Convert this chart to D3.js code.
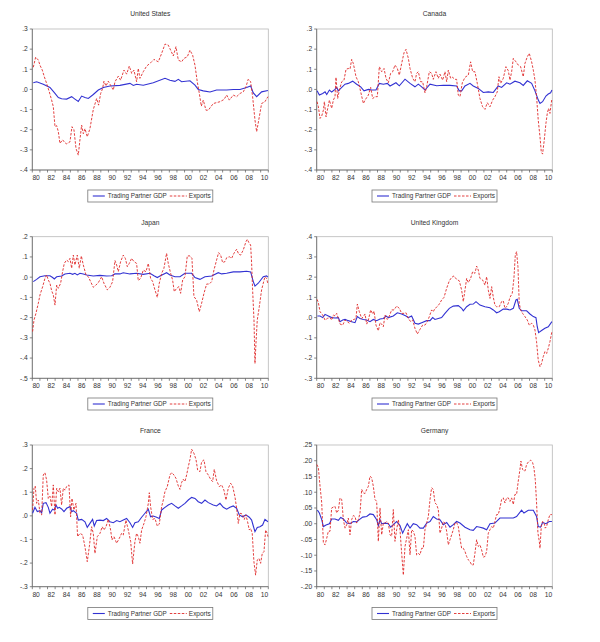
<!DOCTYPE html>
<html>
  <head>
    <meta charset="UTF-8" />
    <style>
      body {
        margin: 0;
        background: #fff;
        font-family: "Liberation Sans", Arial, sans-serif;
      }
    </style>
  </head>
  <body>
    <svg></svg>
    <script src="https://d3js.org/d3.v7.min.js"></script>
    <script>
      // Data: [year, value]
      const countries = ["United States", "Canada", "Japan", "United Kingdom", "France", "Germany"];
      const seriesNames = ["Trading Partner GDP", "Exports"];
      const yearLabels = d3.range(1980, 2011, 2);

      const yDomains = [[-0.4, 0.3], [-0.4, 0.3], [-0.5, 0.2], [-0.3, 0.4], [-0.3, 0.3], [-0.2, 0.25]];
      const yStep = [0.1, 0.1, 0.1, 0.1, 0.1, 0.05];

      const usGdp = [[1980.13,.033],[1980.57,.038],[1981.44,.026],[1982.32,.01],[1982.98,-.02],[1983.42,-.04],[1983.85,-.046],[1984.51,-.048],[1985.17,-.036],[1985.6,-.048],[1986.04,-.06],[1986.48,-.033],[1986.92,-.04],[1987.36,-.045],[1988.01,-.025],[1988.67,-.003],[1989.33,.01],[1990.2,.017],[1991.51,.02],[1992.83,.03],[1993.27,.02],[1993.7,.026],[1994.58,.021],[1995.89,.033],[1997.43,.055],[1998.08,.046],[1998.74,.04],[1999.18,.05],[1999.61,.038],[2000.71,.043],[2001.37,.021],[2001.8,0],[2002.46,-.007],[2003.34,-.013],[2004.21,-.003],[2005.53,-.003],[2006.4,0],[2007.28,0],[2008.15,.01],[2008.68,.017],[2009.03,-.017],[2009.47,-.036],[2010.12,-.012],[2010.95,-.005]];
      const usExports = [[1980.13,.11],[1980.44,.16],[1980.79,.146],[1981.01,.12],[1981.31,.096],[1981.58,.063],[1981.88,.03],[1982.23,-.012],[1982.54,-.053],[1982.76,-.086],[1982.98,-.185],[1983.2,-.18],[1983.42,-.21],[1983.63,-.268],[1983.98,-.25],[1984.29,-.265],[1984.51,-.27],[1984.95,-.26],[1985.21,-.185],[1985.47,-.2],[1985.74,-.293],[1986.04,-.326],[1986.26,-.25],[1986.48,-.177],[1986.7,-.22],[1986.92,-.195],[1987.22,-.235],[1987.57,-.195],[1988.01,-.1],[1988.45,-.045],[1988.71,-.078],[1988.98,-.02],[1989.24,.005],[1989.41,.041],[1989.68,.017],[1989.98,.041],[1990.29,.02],[1990.64,-.003],[1990.86,.038],[1991.3,.066],[1991.6,.046],[1992.04,.096],[1992.39,.076],[1992.74,.116],[1993.05,.08],[1993.35,.096],[1993.7,.038],[1993.92,.104],[1994.14,.055],[1994.58,.088],[1995.02,.116],[1995.54,.132],[1995.98,.149],[1996.55,.137],[1996.99,.179],[1997.43,.225],[1997.86,.22],[1998.17,.195],[1998.52,.166],[1998.87,.212],[1999.18,.146],[1999.61,.137],[1999.92,.154],[2000.36,.162],[2000.71,.195],[2001.06,.17],[2001.37,.12],[2001.67,.038],[2001.94,-.02],[2002.2,-.083],[2002.46,-.053],[2002.81,-.103],[2003.12,-.103],[2003.77,-.07],[2004.65,-.061],[2005.18,-.05],[2005.53,-.028],[2005.88,-.053],[2006.4,-.028],[2006.84,-.036],[2007.28,-.02],[2007.71,-.012],[2008.06,.013],[2008.37,.051],[2008.68,.038],[2008.94,-.036],[2009.25,-.152],[2009.47,-.21],[2009.82,-.136],[2010.12,-.07],[2010.56,-.061],[2010.95,-.036]];

      const canadaGdp = [[1980.05,-.007],[1980.35,-.028],[1980.79,-.02],[1981.1,-.012],[1981.32,-.025],[1981.67,-.003],[1981.97,-.013],[1982.41,0],[1982.63,.01],[1982.85,-.007],[1983.16,.005],[1983.73,.026],[1984.16,.03],[1984.73,.041],[1985.26,.026],[1985.79,.013],[1986.23,-.007],[1986.8,0],[1987.23,-.003],[1987.8,-.003],[1988.24,.03],[1988.77,.026],[1989.29,.03],[1989.65,.017],[1990.43,.033],[1990.87,.018],[1991.62,.051],[1992.28,.03],[1992.93,.013],[1993.37,.026],[1993.81,.013],[1994.25,-.003],[1994.91,.026],[1995.78,.018],[1996.66,.021],[1997.54,.02],[1998.41,.017],[1998.76,-.007],[1999.07,-.007],[1999.51,.017],[2000.17,.03],[2000.6,.017],[2001.26,.005],[2001.92,-.015],[2002.58,-.012],[2003.24,-.015],[2003.89,.017],[2004.33,.01],[2004.99,.033],[2005.43,.026],[2006.08,.041],[2006.74,.033],[2007.18,.02],[2007.71,.043],[2008.28,.03],[2008.72,-.007],[2009.16,-.053],[2009.38,-.07],[2009.72,-.061],[2010.16,-.033],[2010.47,-.023],[2010.78,-.017],[2010.95,-.003]];
      const canadaExports = [[1980.05,-.061],[1980.22,-.086],[1980.44,-.144],[1980.66,-.132],[1980.88,-.103],[1981.01,-.061],[1981.23,-.136],[1981.45,-.094],[1981.67,-.053],[1981.97,-.094],[1982.19,-.053],[1982.41,-.036],[1982.54,.06],[1982.76,-.045],[1982.98,-.003],[1983.29,.038],[1983.59,.046],[1983.86,.1],[1984.16,.104],[1984.38,.1],[1984.6,.149],[1984.82,.129],[1985.17,.063],[1985.48,.038],[1985.79,-.012],[1986.14,-.07],[1986.36,-.053],[1986.8,-.028],[1987.1,.01],[1987.37,-.045],[1987.67,-.036],[1987.98,-.036],[1988.24,.113],[1988.55,.088],[1988.86,.104],[1989.12,.055],[1989.43,.033],[1989.73,.08],[1990.0,.088],[1990.3,.121],[1990.61,.104],[1990.87,.071],[1991.18,.129],[1991.49,.182],[1991.75,.199],[1992.06,.154],[1992.28,.104],[1992.63,.055],[1992.93,.038],[1993.15,.08],[1993.37,.088],[1993.68,.038],[1993.94,.038],[1994.25,-.017],[1994.47,.013],[1994.82,.088],[1995.12,.08],[1995.34,.05],[1995.69,.088],[1996.0,.055],[1996.22,.076],[1996.57,.046],[1996.88,.088],[1997.1,.038],[1997.32,.096],[1997.62,.055],[1997.89,.06],[1998.19,.05],[1998.41,.05],[1998.63,-.028],[1998.85,-.036],[1999.16,.033],[1999.51,.06],[1999.95,.071],[2000.25,.137],[2000.52,.088],[2000.82,.088],[2001.13,.03],[2001.48,-.045],[2001.83,-.086],[2002.14,-.099],[2002.45,-.066],[2002.8,-.086],[2003.15,-.053],[2003.45,-.036],[2003.76,-.012],[2003.98,.063],[2004.2,.03],[2004.55,.055],[2004.9,.113],[2005.21,.093],[2005.43,.046],[2005.65,.088],[2005.87,.154],[2006.22,.137],[2006.52,.121],[2006.83,.113],[2007.18,.063],[2007.4,.129],[2007.71,.162],[2007.97,.179],[2008.28,.137],[2008.5,.096],[2008.72,.046],[2008.93,-.036],[2009.15,-.152],[2009.38,-.235],[2009.55,-.31],[2009.72,-.321],[2009.94,-.252],[2010.16,-.169],[2010.34,-.119],[2010.51,-.094],[2010.69,-.119],[2010.86,-.07],[2010.95,-.045]];

      const japanGdp = [[1980.13,-.022],[1980.57,-.011],[1981.01,.002],[1981.66,.007],[1982.32,.007],[1982.67,-.002],[1982.89,-.009],[1983.2,.002],[1983.85,.006],[1984.29,.016],[1984.95,.019],[1985.3,.014],[1985.6,.019],[1985.91,.011],[1986.26,.019],[1986.7,.016],[1987.14,.011],[1988.01,.006],[1988.89,.009],[1989.76,.006],[1990.42,.007],[1990.86,.016],[1991.51,.016],[1991.95,.022],[1992.83,.016],[1993.7,.019],[1994.58,.014],[1995.46,.019],[1995.98,.007],[1996.42,-.002],[1996.77,.006],[1997.64,.022],[1998.08,.011],[1998.74,.002],[1999.4,.002],[2000.05,.019],[2000.93,.019],[2001.37,-.002],[2002.02,-.011],[2002.68,.002],[2003.56,.006],[2004.43,.022],[2004.87,.016],[2005.53,.019],[2006.4,.026],[2007.28,.026],[2008.15,.029],[2008.68,.026],[2009.03,-.022],[2009.25,-.044],[2009.68,-.03],[2010.34,.002],[2010.78,.006],[2010.95,0]];
      const japanExports = [[1980.04,-.269],[1980.22,-.212],[1980.48,-.179],[1980.79,-.129],[1981.01,-.088],[1981.36,-.047],[1981.66,-.006],[1981.88,.011],[1982.1,-.014],[1982.32,-.03],[1982.54,-.067],[1982.76,-.088],[1982.98,-.138],[1983.2,-.039],[1983.42,-.055],[1983.72,-.03],[1983.98,.027],[1984.2,.068],[1984.51,.085],[1984.73,.077],[1984.95,.093],[1985.17,.044],[1985.39,.109],[1985.6,.06],[1985.91,.109],[1986.17,.044],[1986.44,.105],[1986.7,.06],[1987.05,.011],[1987.36,.002],[1987.66,-.022],[1988.01,-.05],[1988.36,-.039],[1988.67,-.027],[1989.11,.002],[1989.41,-.03],[1989.85,-.063],[1990.2,-.05],[1990.55,-.022],[1990.86,.082],[1991.08,.06],[1991.3,.027],[1991.6,.077],[1991.95,.109],[1992.22,.093],[1992.48,.052],[1992.74,.068],[1993.05,.093],[1993.35,.077],[1993.7,.068],[1993.92,-.017],[1994.23,-.006],[1994.58,.035],[1994.93,.027],[1995.24,.068],[1995.54,-.006],[1995.81,-.022],[1996.11,-.063],[1996.42,-.1],[1996.68,-.03],[1996.99,.019],[1997.29,.044],[1997.64,.118],[1997.86,.068],[1998.17,.019],[1998.43,-.014],[1998.65,-.072],[1998.96,-.055],[1999.26,-.047],[1999.48,-.08],[1999.75,-.014],[2000.05,.002],[2000.36,.105],[2000.71,.105],[2000.97,.093],[2001.23,-.096],[2001.58,-.113],[2001.94,-.171],[2002.24,-.129],[2002.55,-.08],[2002.9,-.034],[2003.25,-.034],[2003.56,-.022],[2003.86,.035],[2004.21,.085],[2004.47,.121],[2004.74,.109],[2005.0,.072],[2005.31,.077],[2005.53,.096],[2005.88,.101],[2006.18,.093],[2006.49,.118],[2006.84,.138],[2007.11,.114],[2007.36,.109],[2007.71,.134],[2008.06,.175],[2008.24,.187],[2008.5,.167],[2008.68,.159],[2008.81,.068],[2008.94,-.063],[2009.12,-.212],[2009.25,-.427],[2009.38,-.327],[2009.55,-.212],[2009.82,-.146],[2010.12,-.063],[2010.34,-.03],[2010.56,.002],[2010.78,-.006],[2010.95,-.034]];

      const ukGdp = [[1980.09,.008],[1980.44,.008],[1980.79,0],[1981.1,.016],[1981.53,.008],[1981.97,0],[1982.41,-.002],[1982.85,0],[1983.07,-.02],[1983.42,-.012],[1983.73,-.009],[1984.16,-.015],[1984.6,-.02],[1985.04,-.025],[1985.35,.005],[1985.7,-.004],[1986.14,-.009],[1986.58,-.012],[1987.01,-.02],[1987.45,-.009],[1987.89,-.015],[1988.33,-.007],[1988.77,-.004],[1989.12,.008],[1989.43,0],[1990.08,.008],[1990.61,.024],[1991.18,.018],[1991.75,.008],[1992.06,0],[1992.49,.008],[1992.93,-.028],[1993.37,-.032],[1993.81,-.025],[1994.47,-.015],[1994.91,-.015],[1995.26,0],[1995.56,-.009],[1996.0,-.004],[1996.44,0],[1996.88,.021],[1997.45,.046],[1997.97,.057],[1998.63,.059],[1999.07,.046],[1999.29,.034],[1999.73,.054],[2000.17,.066],[2000.6,.067],[2000.96,.079],[2001.48,.062],[2002.14,.054],[2002.8,.049],[2003.24,.038],[2003.67,.024],[2004.02,.029],[2004.55,.042],[2004.99,.042],[2005.43,.038],[2005.87,.046],[2006.22,.087],[2006.39,.09],[2006.65,.046],[2006.96,.034],[2007.62,.034],[2008.06,.018],[2008.5,.005],[2008.85,0],[2009.02,-.045],[2009.2,-.074],[2009.59,-.064],[2010.03,-.053],[2010.47,-.045],[2010.95,-.02]];
      const ukExports = [[1980.05,.09],[1980.22,.074],[1980.44,.029],[1980.79,.013],[1981.1,-.012],[1981.4,-.004],[1981.75,0],[1981.97,-.012],[1982.19,.013],[1982.41,.008],[1982.63,.021],[1982.85,-.004],[1983.07,-.032],[1983.42,-.037],[1983.73,-.012],[1984.03,-.02],[1984.3,-.028],[1984.6,-.012],[1984.91,-.009],[1985.17,-.004],[1985.35,.067],[1985.61,.029],[1985.92,-.004],[1986.14,.005],[1986.36,.018],[1986.58,-.032],[1986.8,-.012],[1987.1,.038],[1987.37,.018],[1987.54,.032],[1987.8,-.037],[1988.11,-.065],[1988.33,-.025],[1988.55,-.032],[1988.77,-.045],[1988.99,.013],[1989.29,-.009],[1989.56,.008],[1989.86,.038],[1990.17,.038],[1990.52,.057],[1990.87,.046],[1991.18,.021],[1991.49,.021],[1991.75,.024],[1992.06,-.004],[1992.36,-.02],[1992.63,-.012],[1992.93,-.053],[1993.24,-.081],[1993.59,-.058],[1993.94,-.037],[1994.25,-.037],[1994.55,-.02],[1994.82,.005],[1995.12,.038],[1995.34,.029],[1995.56,.046],[1995.78,.051],[1996.13,.067],[1996.44,.087],[1996.75,.1],[1997.1,.145],[1997.45,.182],[1997.76,.199],[1998.06,.206],[1998.41,.189],[1998.76,.182],[1999.07,.136],[1999.29,.079],[1999.51,.136],[1999.73,.194],[1999.95,.173],[2000.25,.194],[2000.52,.227],[2000.82,.219],[2001.04,.255],[2001.26,.235],[2001.48,.194],[2001.83,.186],[2002.14,.161],[2002.36,.202],[2002.58,.136],[2002.8,.095],[2003.02,.153],[2003.24,.1],[2003.45,.062],[2003.67,.054],[2004.02,.054],[2004.33,.079],[2004.55,.083],[2004.77,.046],[2004.99,.054],[2005.21,.071],[2005.43,.1],[2005.73,.12],[2005.95,.194],[2006.13,.309],[2006.3,.326],[2006.48,.252],[2006.65,.071],[2006.83,.038],[2007.09,.021],[2007.4,.005],[2007.71,-.012],[2007.97,-.037],[2008.28,-.028],[2008.5,-.037],[2008.72,-.061],[2008.93,-.119],[2009.15,-.21],[2009.38,-.243],[2009.59,-.226],[2009.81,-.193],[2010.03,-.168],[2010.25,-.177],[2010.47,-.152],[2010.69,-.119],[2010.95,-.069]];

      const franceGdp = [[1980.04,.011],[1980.35,.036],[1980.66,.018],[1981.01,.022],[1981.23,.013],[1981.44,.053],[1981.8,.056],[1982.1,.036],[1982.32,.011],[1982.67,.028],[1982.89,.025],[1983.11,.046],[1983.33,.032],[1983.55,.036],[1983.85,.029],[1984.16,.018],[1984.51,.032],[1984.95,.039],[1985.17,.018],[1985.39,.022],[1985.82,.011],[1986.04,-.018],[1986.48,-.015],[1986.92,-.025],[1987.22,-.049],[1987.57,-.032],[1987.92,-.015],[1988.14,-.043],[1988.45,-.02],[1988.89,-.018],[1989.33,-.02],[1989.76,-.011],[1990.2,-.025],[1990.64,-.029],[1991.08,-.02],[1991.51,-.025],[1991.95,-.018],[1992.39,-.011],[1992.83,-.029],[1993.18,-.049],[1993.48,-.029],[1993.92,-.025],[1994.36,-.006],[1994.8,.011],[1995.24,.028],[1995.54,-.004],[1995.89,-.001],[1996.33,-.006],[1996.68,-.011],[1996.99,.025],[1997.43,.036],[1997.86,.046],[1998.3,.053],[1998.74,.042],[1999.18,.032],[1999.61,.042],[2000.05,.053],[2000.49,.067],[2000.93,.078],[2001.37,.074],[2001.8,.06],[2002.24,.053],[2002.68,.067],[2003.12,.056],[2003.77,.046],[2004.21,.042],[2004.65,.053],[2005.09,.036],[2005.53,.028],[2005.96,.036],[2006.4,.042],[2006.84,.032],[2007.19,.004],[2007.63,-.004],[2008.06,.004],[2008.5,-.006],[2008.81,-.018],[2009.03,-.043],[2009.25,-.067],[2009.55,-.049],[2009.9,-.046],[2010.25,-.039],[2010.56,-.015],[2010.95,-.025]];
      const franceExports = [[1980.04,.025],[1980.22,.117],[1980.39,.126],[1980.57,.053],[1980.79,.067],[1981.01,.011],[1981.23,.004],[1981.44,.173],[1981.66,.183],[1981.88,.152],[1982.1,.074],[1982.32,.084],[1982.54,.039],[1982.76,.131],[1982.98,.004],[1983.2,.117],[1983.42,.102],[1983.63,.117],[1983.85,.046],[1984.07,.117],[1984.29,.109],[1984.51,.124],[1984.82,.131],[1985.03,-.004],[1985.21,.074],[1985.47,.025],[1985.74,.053],[1985.95,-.088],[1986.26,-.074],[1986.61,-.081],[1986.92,-.131],[1987.22,-.194],[1987.49,-.131],[1987.79,-.046],[1988.01,-.074],[1988.23,-.159],[1988.54,-.088],[1988.89,-.074],[1989.19,-.046],[1989.41,-.06],[1989.68,-.046],[1989.98,-.015],[1990.29,-.06],[1990.46,-.102],[1990.73,-.088],[1991.08,-.116],[1991.43,-.095],[1991.73,-.074],[1991.95,-.081],[1992.3,-.018],[1992.61,-.06],[1992.92,-.109],[1993.18,-.204],[1993.48,-.109],[1993.7,-.074],[1993.92,-.088],[1994.14,-.116],[1994.36,-.06],[1994.67,-.032],[1994.93,-.004],[1995.24,.053],[1995.37,.098],[1995.54,.039],[1995.81,-.015],[1996.11,-.011],[1996.42,-.043],[1996.68,-.035],[1996.99,.039],[1997.21,.067],[1997.42,.102],[1997.73,.124],[1998.08,.173],[1998.3,.183],[1998.61,.173],[1998.87,.159],[1999.18,.126],[1999.4,.112],[1999.61,.141],[1999.83,.155],[2000.05,.145],[2000.27,.173],[2000.49,.208],[2000.71,.239],[2000.93,.282],[2001.23,.265],[2001.5,.239],[2001.72,.194],[2002.02,.187],[2002.24,.229],[2002.55,.237],[2002.81,.187],[2003.12,.173],[2003.42,.155],[2003.69,.145],[2003.9,.197],[2004.21,.149],[2004.56,.124],[2004.87,.131],[2005.17,.109],[2005.44,.067],[2005.74,.117],[2006.05,.138],[2006.31,.126],[2006.62,.081],[2006.84,.032],[2007.06,-.032],[2007.28,.011],[2007.58,.008],[2007.85,-.015],[2008.06,.004],[2008.28,-.025],[2008.5,-.06],[2008.68,-.053],[2008.89,-.074],[2009.11,-.194],[2009.33,-.251],[2009.55,-.187],[2009.77,-.18],[2009.99,-.201],[2010.21,-.159],[2010.43,-.152],[2010.65,-.06],[2010.86,-.074],[2010.95,-.088]];

      const germanyGdp = [[1980.09,.043],[1980.35,.034],[1980.66,.013],[1980.88,-.009],[1981.23,-.004],[1981.67,0],[1981.97,.015],[1982.41,.015],[1982.85,.011],[1983.16,.02],[1983.51,.015],[1983.95,.002],[1984.38,0],[1984.82,.007],[1985.26,.006],[1985.61,.013],[1986.05,.021],[1986.58,.023],[1987.01,.031],[1987.45,.029],[1987.89,.013],[1988.11,-.006],[1988.33,.013],[1988.55,0],[1988.99,.002],[1989.43,0],[1989.73,-.011],[1990.08,-.003],[1990.52,.007],[1990.96,-.006],[1991.31,-.03],[1991.62,-.014],[1991.92,0],[1992.28,-.014],[1992.71,0],[1993.15,-.003],[1993.59,-.014],[1994.03,-.014],[1994.47,.002],[1994.91,.007],[1995.34,.023],[1995.78,.015],[1996.22,.013],[1996.66,-.003],[1997.1,.004],[1997.54,-.011],[1997.97,-.003],[1998.41,.007],[1998.85,.002],[1999.51,-.011],[2000.17,-.019],[2000.6,-.021],[2001.04,-.009],[2001.48,-.011],[2001.92,-.014],[2002.36,-.019],[2002.8,0],[2003.45,.002],[2004.11,.018],[2004.99,.018],[2005.87,.018],[2006.3,.023],[2006.96,.043],[2007.27,.034],[2007.84,.043],[2008.5,.043],[2008.93,.023],[2009.15,-.009],[2009.46,-.011],[2009.72,.004],[2010.16,0],[2010.6,.007],[2010.95,.007]];
      const germanyExports = [[1980.02,.188],[1980.22,.178],[1980.44,.119],[1980.66,.066],[1980.88,-.062],[1981.1,-.067],[1981.32,-.046],[1981.53,-.024],[1981.75,-.024],[1981.97,.05],[1982.19,.053],[1982.41,.055],[1982.63,.034],[1982.85,.043],[1983.07,.082],[1983.29,.077],[1983.51,.013],[1983.73,-.014],[1983.95,-.003],[1984.16,.018],[1984.38,-.035],[1984.6,.013],[1984.82,.026],[1985.04,.023],[1985.26,.002],[1985.48,.013],[1985.7,.034],[1985.92,.109],[1986.14,.098],[1986.36,.096],[1986.58,.109],[1986.8,.119],[1987.01,.151],[1987.23,.146],[1987.45,.119],[1987.67,.077],[1987.89,.071],[1988.11,-.056],[1988.33,.05],[1988.55,-.035],[1988.77,.002],[1988.99,.002],[1989.21,.007],[1989.43,.002],[1989.64,-.035],[1989.86,-.04],[1990.08,.045],[1990.3,-.056],[1990.52,-.019],[1990.74,.013],[1990.96,-.019],[1991.18,-.094],[1991.4,-.163],[1991.62,-.072],[1991.84,-.046],[1992.06,-.019],[1992.28,-.099],[1992.49,-.019],[1992.71,-.024],[1992.93,-.04],[1993.15,-.099],[1993.37,-.094],[1993.59,-.099],[1993.81,-.078],[1994.03,-.078],[1994.25,-.019],[1994.47,.002],[1994.69,.023],[1994.91,.077],[1995.12,.114],[1995.34,.109],[1995.56,.066],[1995.78,.061],[1996.0,.045],[1996.22,-.03],[1996.44,-.014],[1996.66,.007],[1996.88,.002],[1997.1,-.024],[1997.32,-.067],[1997.54,-.051],[1997.76,-.035],[1997.97,-.019],[1998.19,.002],[1998.41,.004],[1998.63,-.009],[1998.85,-.046],[1999.07,-.078],[1999.29,-.078],[1999.51,-.088],[1999.73,-.104],[1999.95,-.115],[2000.17,-.12],[2000.39,-.131],[2000.6,-.131],[2000.82,-.094],[2001.04,-.051],[2001.26,-.072],[2001.48,-.067],[2001.7,-.083],[2001.92,-.106],[2002.14,-.104],[2002.36,-.088],[2002.58,-.03],[2002.8,-.019],[2003.02,-.009],[2003.24,-.014],[2003.45,.007],[2003.67,.029],[2003.89,.029],[2004.11,.05],[2004.33,.077],[2004.55,.082],[2004.77,.066],[2004.99,.082],[2005.21,.082],[2005.43,.071],[2005.65,.082],[2005.87,.061],[2006.08,.093],[2006.3,.093],[2006.52,.135],[2006.74,.172],[2006.87,.199],[2007.09,.172],[2007.4,.167],[2007.62,.188],[2007.84,.196],[2008.15,.202],[2008.41,.194],[2008.58,.178],[2008.76,.14],[2008.93,.066],[2009.11,-.03],[2009.29,-.056],[2009.38,-.078],[2009.55,-.009],[2009.72,.007],[2009.9,.004],[2010.07,-.014],[2010.25,-.009],[2010.47,.013],[2010.69,.029],[2010.95,.029]];

      const gdpSeries = [usGdp, canadaGdp, japanGdp, ukGdp, franceGdp, germanyGdp];
      const exportSeries = [usExports, canadaExports, japanExports, ukExports, franceExports, germanyExports];

      // layout
      let width = 600,
        height = 642;
      const svg = d3.select("svg").attr("width", width).attr("height", height);

      const cols = [
        { left: 32.3, right: 268.3 },
        { left: 316.7, right: 552.3 },
      ];
      const rows = [
        { top: 29, bottom: 170, title: 13.5, legend: 190 },
        { top: 236.7, bottom: 378.3, title: 222.3, legend: 398 },
        { top: 445, bottom: 586.7, title: 430.3, legend: 607.5 },
      ];

      const blue = "#3232d2",
        red = "#e02a2a",
        fontSize = 6.7;

      function fmt(v, step) {
        let s = v.toFixed(step < 0.1 ? 2 : 1);
        return s.replace("0.", ".");
      }

      countries.forEach((name, i) => {
        let c = cols[i % 2],
          r = rows[Math.floor(i / 2)];

        let x = d3.scaleLinear().domain([1980, 2011]).range([c.left, c.right]);
        let y = d3.scaleLinear().domain(yDomains[i]).range([r.bottom, r.top]);

        let g = svg.append("g");

        // title
        g.append("text")
          .attr("x", (c.left + c.right) / 2)
          .attr("y", r.title)
          .attr("dy", "0.35em")
          .attr("text-anchor", "middle")
          .attr("font-size", fontSize)
          .attr("fill", "#333")
          .text(name);

        // frame: light top/right, dark axes
        g.append("rect")
          .attr("x", c.left)
          .attr("y", r.top)
          .attr("width", c.right - c.left)
          .attr("height", r.bottom - r.top)
          .attr("fill", "none")
          .attr("stroke", "#b8b8b8")
          .attr("stroke-width", 0.8);

        // y axis
        let step = yStep[i];
        let n = Math.round((yDomains[i][1] - yDomains[i][0]) / step);
        let yTicks = d3.range(n + 1).map((k) => yDomains[i][0] + k * step);

        g.selectAll(".ytick")
          .data(yTicks)
          .enter()
          .append("line")
          .attr("x1", c.left - 2.5)
          .attr("x2", c.left)
          .attr("y1", (d) => y(d))
          .attr("y2", (d) => y(d))
          .attr("stroke", "#555")
          .attr("stroke-width", 0.7);

        g.selectAll(".ylab")
          .data(yTicks)
          .enter()
          .append("text")
          .attr("x", c.left - 4.5)
          .attr("y", (d) => y(d))
          .attr("dy", "0.35em")
          .attr("text-anchor", "end")
          .attr("font-size", fontSize)
          .attr("fill", "#333")
          .text((d) => fmt(d, step));

        // x axis: a tick every year, label every other year
        g.selectAll(".xtick")
          .data(d3.range(1980, 2012))
          .enter()
          .append("line")
          .attr("x1", (d) => x(d))
          .attr("x2", (d) => x(d))
          .attr("y1", r.bottom)
          .attr("y2", r.bottom + 2.5)
          .attr("stroke", "#555")
          .attr("stroke-width", 0.7);

        g.selectAll(".xlab")
          .data(yearLabels)
          .enter()
          .append("text")
          .attr("x", (d) => x(d + 0.5))
          .attr("y", r.bottom + 7.5)
          .attr("dy", "0.35em")
          .attr("text-anchor", "middle")
          .attr("font-size", fontSize)
          .attr("fill", "#333")
          .text((d) => String(d).slice(2));

        g.append("line")
          .attr("x1", c.left).attr("x2", c.left)
          .attr("y1", r.top).attr("y2", r.bottom)
          .attr("stroke", "#666").attr("stroke-width", 0.8);
        g.append("line")
          .attr("x1", c.left).attr("x2", c.right)
          .attr("y1", r.bottom).attr("y2", r.bottom)
          .attr("stroke", "#666").attr("stroke-width", 0.8);

        // lines
        let line = d3
          .line()
          .x((d) => x(d[0]))
          .y((d) => y(d[1]));

        g.append("path")
          .datum(gdpSeries[i])
          .attr("fill", "none")
          .attr("stroke", blue)
          .attr("stroke-width", 1.1)
          .attr("d", line);

        g.append("path")
          .datum(exportSeries[i])
          .attr("fill", "none")
          .attr("stroke", red)
          .attr("stroke-width", 0.9)
          .attr("stroke-dasharray", "2.5,1.5")
          .attr("d", line);

        // legend
        let lx = (c.left + c.right) / 2 - 62.5,
          ly = r.legend;
        let lg = g.append("g").attr("transform", "translate(" + lx + "," + ly + ")");
        lg.append("rect")
          .attr("width", 125)
          .attr("height", 12)
          .attr("fill", "#fff")
          .attr("stroke", "#777")
          .attr("stroke-width", 0.8);
        lg.append("line")
          .attr("x1", 5).attr("x2", 17).attr("y1", 6).attr("y2", 6)
          .attr("stroke", blue).attr("stroke-width", 1.1);
        lg.append("text")
          .attr("x", 20).attr("y", 6).attr("dy", "0.35em")
          .attr("font-size", 6.5).attr("fill", "#333")
          .attr("textLength", 59)
          .attr("lengthAdjust", "spacingAndGlyphs")
          .text(seriesNames[0]);
        lg.append("line")
          .attr("x1", 82).attr("x2", 99).attr("y1", 6).attr("y2", 6)
          .attr("stroke", red).attr("stroke-width", 0.9)
          .attr("stroke-dasharray", "2.5,1.5");
        lg.append("text")
          .attr("x", 101).attr("y", 6).attr("dy", "0.35em")
          .attr("font-size", 6.5).attr("fill", "#333")
          .attr("textLength", 22)
          .attr("lengthAdjust", "spacingAndGlyphs")
          .text(seriesNames[1]);
      });
    </script>
  </body>
</html>
